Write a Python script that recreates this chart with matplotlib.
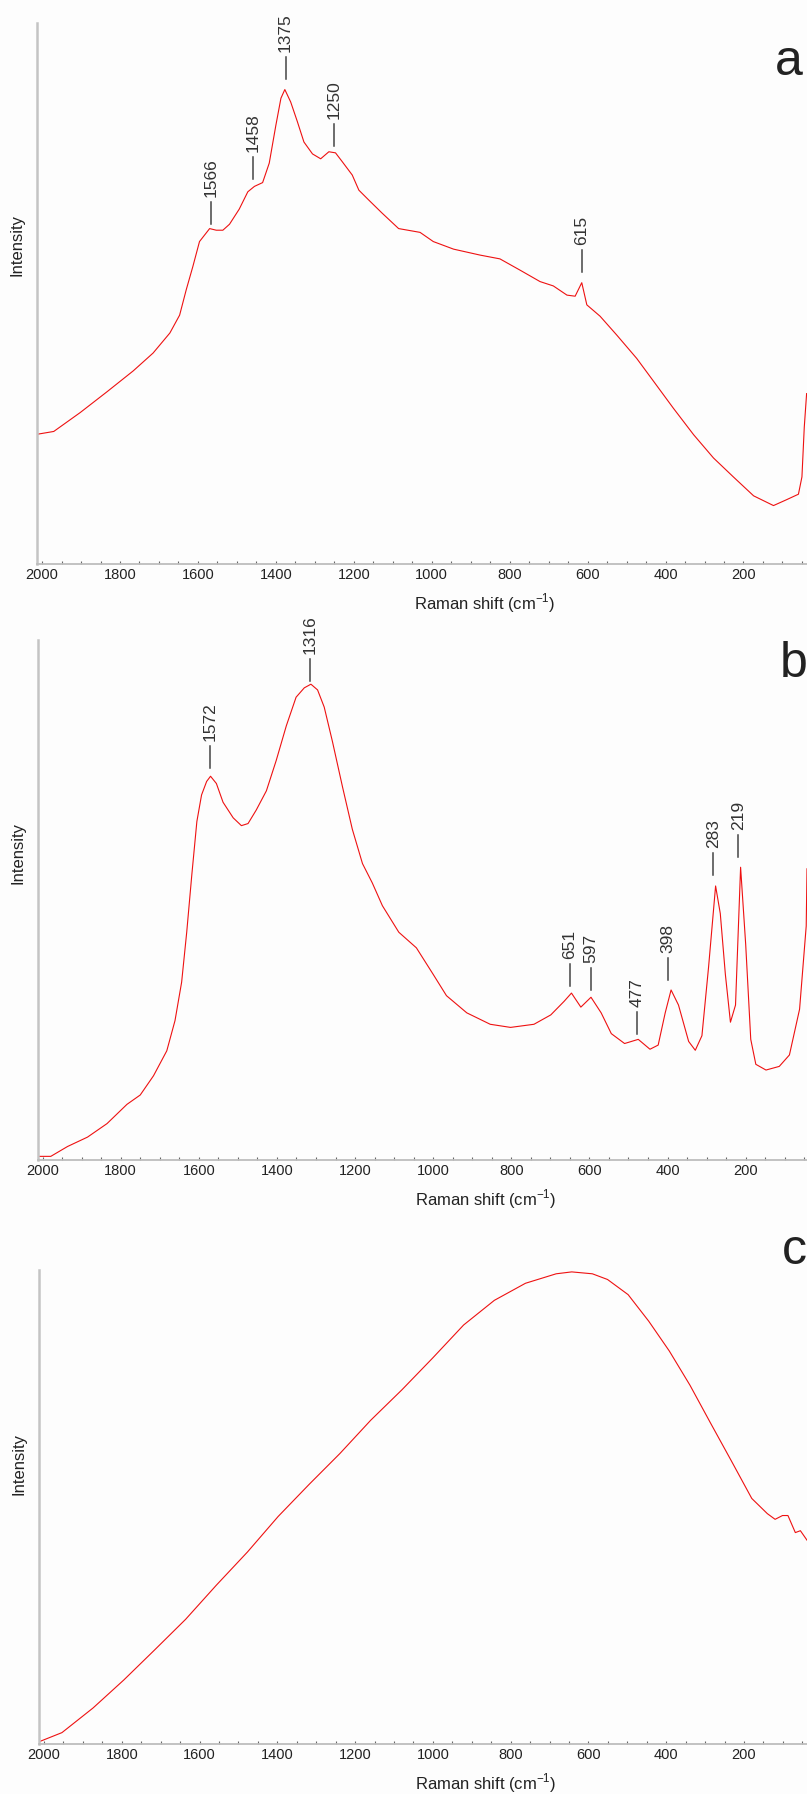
import numpy as np
import matplotlib
matplotlib.use("Agg")
import matplotlib.pyplot as plt
from matplotlib.ticker import MultipleLocator

plt.rcParams['font.family'] = ['Liberation Sans', 'DejaVu Sans']
plt.rcParams['mathtext.fontset'] = 'custom'
plt.rcParams['mathtext.rm'] = 'Liberation Sans'

# spectrum a (intensity as fraction of axis height)
wn_a = [2011, 1970, 1902, 1834, 1766, 1715, 1672, 1647, 1630, 1613, 1596, 1570, 1553, 1536,
        1519, 1494, 1472, 1455, 1434, 1417, 1400, 1387, 1377, 1362, 1345, 1328, 1306, 1285,
        1264, 1247, 1230, 1204, 1187, 1162, 1128, 1085, 1030, 996, 944, 876, 825, 773, 722,
        688, 653, 632, 615, 602, 568, 525, 474, 431, 380, 328, 277, 226, 174, 123, 89, 59,
        50, 44, 38]
int_a = [.240, .245, .280, .318, .357, .390, .427, .460, .507, .550, .596, .620, .617, .617,
         .628, .656, .688, .698, .705, .741, .811, .861, .877, .854, .818, .780, .758, .749,
         .762, .760, .744, .719, .691, .673, .649, .620, .613, .596, .582, .571, .564, .543, .522,
         .514, .497, .495, .520, .479, .458, .423, .380, .338, .288, .239, .196, .161, .126, .108, .119, .129,
         .161, .253, .315]

# spectrum b
wn_b = [2008, 1979, 1936, 1885, 1835, 1784, 1750, 1716, 1682, 1661, 1644, 1631, 1618, 1605,
        1593, 1580, 1570, 1555, 1538, 1512, 1491, 1474, 1453, 1427, 1402, 1376, 1351, 1330,
        1313, 1296, 1279, 1258, 1232, 1207, 1181, 1156, 1130, 1088, 1043, 1000, 966, 914, 854,
        802, 742, 699, 665, 646, 622, 596, 570, 544, 510, 475, 445, 424, 406, 391, 372, 346,
        329, 312, 295, 277, 265, 252, 239, 226, 213, 200, 187, 174, 148, 114, 88, 62, 45, 43]
int_b = [.007, .007, .026, .044, .070, .107, .125, .162, .210, .268, .342, .438, .548, .651,
         .702, .728, .738, .724, .688, .658, .643, .647, .673, .710, .768, .835, .890, .908,
         .915, .904, .871, .805, .717, .636, .570, .533, .489, .438, .408, .357, .316, .283, .261,
         .255, .261, .279, .305, .321, .294, .313, .283, .243, .224, .232, .213, .221, .283, .327, .298, .228,
         .211, .239, .371, .527, .474, .357, .265, .298, .563, .415, .232, .184, .173, .180, .202, .290, .450, .560]

# spectrum c
wn_c = [2009, 1954, 1874, 1795, 1715, 1636, 1557, 1477, 1398, 1318, 1239, 1160, 1080, 1001,
        921, 842, 762, 683, 643, 590, 551, 498, 445, 392, 339, 286, 233, 180, 140, 120, 101,
        87, 68, 55, 38]
int_c = [.006, .024, .076, .135, .199, .263, .335, .405, .480, .548, .613, .683, .747, .814,
         .884, .936, .972, .992, .996, .992, .980, .948, .892, .829, .757, .677, .598, .518, .486, .474, .482,
         .482, .446, .450, .430]

# peak labels and the height where each marker starts
peaks_a = [1566, 1458, 1375, 1250, 615]
peaks_a_y = [.628, .712, .896, .772, .539]
peaks_b = [1572, 1316, 651, 597, 477, 398, 283, 219]
peaks_b_y = [.754, .921, .335, .327, .243, .346, .548, .583]

panels = [
    dict(wn=wn_a, inten=int_a, peaks=peaks_a, peaks_y=peaks_a_y, letter='a',
         top=23, bottom=564, left=37, xright=37, letter_xy=(789, 75)),
    dict(wn=wn_b, inten=int_b, peaks=peaks_b, peaks_y=peaks_b_y, letter='b',
         top=640, bottom=1160, left=37.5, xright=43, letter_xy=(794, 677)),
    dict(wn=wn_c, inten=int_c, peaks=[], peaks_y=[], letter='c',
         top=1270, bottom=1744, left=39, xright=38, letter_xy=(794, 1264)),
]

W, H = 807, 1794
fig = plt.figure(figsize=(W / 100, H / 100), dpi=100, facecolor='#fdfdfd')

for p in panels:
    h = p['bottom'] - p['top']
    ax = fig.add_axes([p['left'] / W, (H - p['bottom']) / H, (W - p['left']) / W, h / H])
    ax.set_facecolor('#fdfdfd')
    ax.plot(p['wn'], p['inten'], color='#ee1111', lw=0.8)
    ax.set_xlim(2013, p['xright'])
    ax.set_ylim(0, 1)

    # peak markers: short dash then rotated number
    ln = 22 / h
    gap = 5 / h
    for w, y in zip(p['peaks'], p['peaks_y']):
        ax.plot([w, w], [y, y + ln], color='#444444', lw=1.1, clip_on=False)
        ax.text(w, y + ln + gap, str(w), rotation=90, ha='center', va='bottom',
                fontsize=12.5, color='#333333', clip_on=False)

    for s in ['top', 'right']:
        ax.spines[s].set_visible(False)
    ax.spines['left'].set_color('#c4c4c4')
    ax.spines['left'].set_linewidth(1.8)
    ax.spines['bottom'].set_color('#bdbdbd')
    ax.spines['bottom'].set_linewidth(1.3)

    ax.set_yticks([])
    ax.xaxis.set_major_locator(MultipleLocator(200))
    ax.xaxis.set_minor_locator(MultipleLocator(50))
    ax.tick_params(axis='x', which='both', direction='in', length=2.5, width=0.8,
                   color='#666666', labelsize=10.5, labelcolor='#222222', pad=3)
    ax.set_xticks([2000, 1800, 1600, 1400, 1200, 1000, 800, 600, 400, 200])

    ax.set_xlabel('Raman shift (cm$^{-1}$)', fontsize=12, color='#222222')
    ax.xaxis.set_label_coords(0.582, -27 / h)
    ax.set_ylabel('Intensity', fontsize=12, color='#222222')
    ax.yaxis.set_label_coords(-0.016, 0.59)

    lx, ly = p['letter_xy']
    fig.text(lx / W, 1 - ly / H, p['letter'], fontsize=36, color='#222222',
             ha='center', va='baseline')

fig.savefig('out.png', dpi=100, facecolor=fig.get_facecolor())
